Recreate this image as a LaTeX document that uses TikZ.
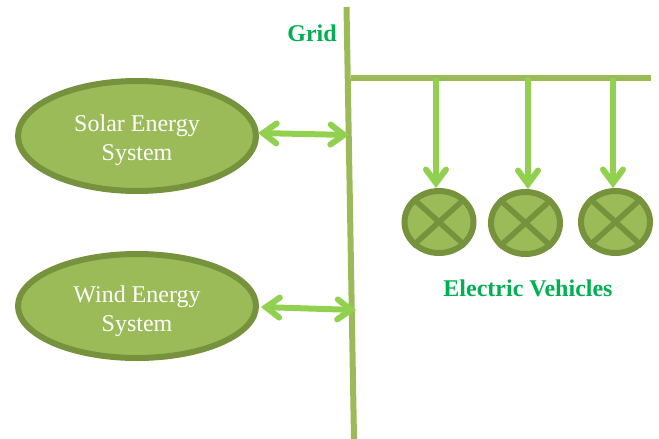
\documentclass[tikz,border=0pt]{standalone}
\usepackage{fontspec}
\setmainfont{Liberation Serif}
\usetikzlibrary{shapes.geometric,arrows.meta}
\definecolor{fillg}{HTML}{9BBB59}
\definecolor{edgeg}{HTML}{76923C}
\definecolor{arrowg}{HTML}{92D050}
\definecolor{textg}{HTML}{00B050}
\pgfdeclarearrow{
  name=WideBarb,
  setup code={
    \pgfarrowssettipend{0pt}
    \pgfarrowssetlineend{-5pt}
    \pgfarrowssetvisualbackend{-21pt}
    \pgfarrowssetbackend{-21pt}
  },
  drawing code={
    \pgfsetlinewidth{6pt}
    \pgfsetroundcap
    \pgfsetmiterjoin
    \pgfpathmoveto{\pgfpoint{-18.5pt}{10pt}}
    \pgfpathlineto{\pgfpoint{-5pt}{0pt}}
    \pgfpathlineto{\pgfpoint{-18.5pt}{-10pt}}
    \pgfusepathqstroke
  }
}
\tikzset{
  source/.style={ellipse,draw=edgeg,fill=fillg,line width=6pt,inner sep=0pt,minimum width=238pt},
  srctext/.style={align=center,text=white,inner sep=0pt,font=\fontsize{24}{29}\selectfont},
  ev/.style={ellipse,draw=edgeg,fill=fillg,line width=6pt,inner sep=0pt,minimum width=69pt,minimum height=62pt},
  crossline/.style={draw=edgeg,line width=5.5pt},
  bus/.style={draw=fillg,line width=6pt},
  feed/.style={draw=arrowg,line width=6pt,-WideBarb},
  link/.style={draw=arrowg,line width=6pt,WideBarb-WideBarb},
  lab/.style={text=textg,font=\fontsize{24}{28}\selectfont\bfseries,inner sep=0pt}
}
\begin{document}
\begin{tikzpicture}[x=1pt,y=-1pt]
\useasboundingbox (0,0) rectangle (659,439);
\coordinate (gt) at (346.5,7);
\coordinate (gb) at (354,439);
\coordinate (bl) at (351,78);
\coordinate (br) at (651,78);
\coordinate (t1) at (436,78);
\coordinate (t2) at (528,78);
\coordinate (t3) at (613,78);
\coordinate (g1) at (349,135);
\coordinate (g2) at (356,310);
\draw[bus] (gt) -- (gb);
\draw[bus] (bl) -- (br);
\node[source,minimum height=110pt] (solar) at (137,136) {};
\node[source,minimum height=104pt] (wind) at (137,306) {};
\node[srctext] (solart) at (137,140) {Solar Energy\\System};
\node[srctext] (windt) at (137,311) {Wind Energy\\System};
\node[ev] (c1) at (439,222) {};
\node[ev] (c2) at (525.5,223) {};
\node[ev] (c3) at (615.5,222) {};
\foreach \c in {c1,c2,c3}{
  \draw[crossline] (\c.north west) -- (\c.south east);
  \draw[crossline] (\c.north east) -- (\c.south west);
}
\draw[feed] (t1) -- (c1.north -| t1);
\draw[feed] (t2) -- (c2.north -| t2);
\draw[feed] (t3) -- (c3.north -| t3);
\draw[link] (solar.east) ++(-1,-3) coordinate (s1) (s1) -- (g1);
\draw[link] (wind.east) ++(2,1) coordinate (w1) (w1) -- (g2);
\node[lab] (gridl) at (312,33) {Grid};
\node[lab] (evl) at (528,288) {Electric Vehicles};
\end{tikzpicture}
\end{document}
